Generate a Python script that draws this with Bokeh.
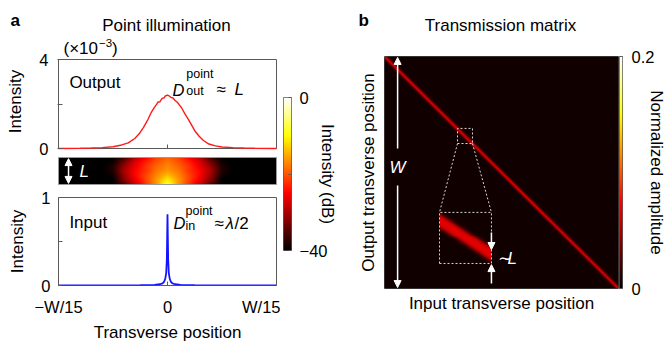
import numpy as np
from bokeh.plotting import figure
from bokeh.layouts import row, column
from bokeh.models import Range1d, LinearColorMapper, FixedTicker, Label, Arrow, NormalHead
from bokeh.embed import file_html
from bokeh.resources import INLINE

FONT = "Liberation Sans"
FRAME = "#5a5a5a"

# ---- data -------------------------------------------------------------
# Output intensity under point illumination (x in units of W/15, intensity x1e-3)
out_x = [-1.0, -0.8, -0.7, -0.6, -0.5, -0.42, -0.36, -0.3, -0.26, -0.22, -0.18,
         -0.15, -0.12, -0.1, -0.09, -0.07, -0.05, -0.03, -0.02, 0.0, 0.01, 0.03,
         0.05, 0.07, 0.09, 0.11, 0.13, 0.16, 0.19, 0.22, 0.25, 0.29, 0.33, 0.38,
         0.44, 0.5, 0.6, 0.7, 0.8, 1.0]
out_y = [0.0, 0.01, 0.02, 0.04, 0.08, 0.16, 0.25, 0.45, 0.66, 0.95, 1.3,
         1.61, 1.85, 1.98, 2.08, 2.1, 2.25, 2.28, 2.36, 2.4, 2.38, 2.3,
         2.27, 2.16, 2.08, 1.95, 1.82, 1.56, 1.32, 1.06, 0.8, 0.55, 0.36, 0.2,
         0.12, 0.07, 0.04, 0.02, 0.01, 0.0]

# Input intensity (focused spot)
in_x = [-1.0, -0.5, -0.25, -0.12, -0.07, -0.045, -0.03, -0.02, -0.012, -0.006,
        -0.003, 0.0, 0.003, 0.006, 0.012, 0.02, 0.03, 0.045, 0.07, 0.12, 0.25, 0.5, 1.0]
in_y = [0.0, 0.002, 0.004, 0.008, 0.014, 0.025, 0.045, 0.08, 0.14, 0.3,
        0.55, 0.81, 0.55, 0.3, 0.14, 0.08, 0.045, 0.025, 0.014, 0.008, 0.004, 0.002, 0.0]

# Intensity inside the medium (dB); rows from the input face (bottom) to the top,
# columns at x = -1.0, -0.9, ... 1.0
strip_db = [
    [-40, -40, -40, -40, -40, -40, -35, -28, -22, -16, -8, -16, -22, -28, -35, -40, -40, -40, -40, -40, -40],
    [-40, -40, -40, -40, -40, -40, -32, -26, -21, -16, -11, -16, -21, -26, -32, -40, -40, -40, -40, -40, -40],
    [-40, -40, -40, -40, -40, -39, -31, -25, -21, -17, -14, -17, -21, -25, -31, -39, -40, -40, -40, -40, -40],
    [-40, -40, -40, -40, -40, -38, -30, -25, -22, -18, -16, -18, -22, -25, -30, -38, -40, -40, -40, -40, -40],
    [-40, -40, -40, -40, -40, -38, -31, -26, -22, -19, -17, -19, -22, -26, -31, -38, -40, -40, -40, -40, -40],
    [-40, -40, -40, -40, -40, -39, -33, -27, -23, -20, -18, -20, -23, -27, -33, -39, -40, -40, -40, -40, -40],
    [-40, -40, -40, -40, -40, -40, -36, -29, -25, -21, -19, -21, -25, -29, -36, -40, -40, -40, -40, -40, -40],
]

# Transmission matrix: amplitude against |input - output| (fraction of W)
diag_offset = [0.0, 0.003, 0.006, 0.009, 0.012, 0.016, 0.022, 0.035]
diag_amp = [0.066, 0.062, 0.05, 0.032, 0.018, 0.011, 0.007, 0.005]

# Magnified block: band centre (fraction of block height, left/right edge)
inset_band = [0.16, 0.84]
inset_offset = [0.0, 0.05, 0.09, 0.12, 0.15, 0.19, 0.26]
inset_amp = [0.068, 0.066, 0.058, 0.044, 0.024, 0.01, 0.005]


def hot(n=256):
    cols = []
    for i in range(n):
        t = i / (n - 1)
        r = min(1.0, t / 0.375)
        g = min(1.0, max(0.0, (t - 0.375) / 0.375))
        b = min(1.0, max(0.0, (t - 0.75) / 0.25))
        cols.append("#%02x%02x%02x" % (int(r * 255), int(g * 255), int(b * 255)))
    return cols


HOT = hot()


def make_fig(w, h, xr, yr, left, right, top, bottom, **kw):
    p = figure(width=w, height=h, x_range=xr, y_range=yr, output_backend="svg",
               toolbar_location=None, min_border=0, min_border_left=left,
               min_border_right=right, min_border_top=top, min_border_bottom=bottom, **kw)
    p.frame_align = False
    p.grid.visible = False
    p.outline_line_color = FRAME
    return p


def header(w, h):
    # blank strip in pixel coordinates (y downwards) for panel letters and titles
    p = make_fig(w, h, Range1d(0, w), Range1d(h, 0), 0, 0, 0, 0,
                 x_axis_location=None, y_axis_location=None)
    p.outline_line_color = None
    return p


def style_axis(ax, ticks, overrides=None, tick_in=4, standoff=8, size="16.5px"):
    ax.ticker = FixedTicker(ticks=ticks, minor_ticks=[])
    if overrides:
        ax.major_label_overrides = overrides
    ax.major_tick_in = tick_in
    ax.major_tick_out = 0
    ax.minor_tick_line_color = None
    ax.axis_line_color = None
    ax.major_tick_line_color = FRAME
    ax.major_label_text_font = FONT
    ax.major_label_text_font_size = size
    ax.major_label_text_color = "black"
    ax.major_label_standoff = standoff
    ax.axis_label_text_font = FONT
    ax.axis_label_text_font_style = "normal"
    ax.axis_label_text_font_size = "17px"
    ax.axis_label_text_color = "black"


def text(p, x, y, s, size="17px", style="normal", color="black", align="left",
         baseline="alphabetic", **kw):
    p.add_layout(Label(x=x, y=y, text=s, text_font=FONT, text_font_size=size,
                       text_font_style=style, text_color=color, text_align=align,
                       text_baseline=baseline, **kw))


def arrow(p, x0, y0, x1, y1, **kw):
    p.add_layout(Arrow(x_start=x0, y_start=y0, x_end=x1, y_end=y1,
                       end=NormalHead(size=7, fill_color="white", line_color="white"),
                       line_color="white", line_width=1.5, **kw))


# ---- panel a: header ---------------------------------------------------
hdr_a = header(280, 34)
text(hdr_a, 10, 19.5, "a", style="bold")
text(hdr_a, 166, 25, "Point illumination", align="center")

# ---- panel a: output intensity + intensity inside the medium ----------
# one frame holds the output trace (y range) and the strip (extra "strip" range)
px_x = 109.0    # pixels per unit of W/15
px_y = 22.25    # pixels per 1e-3 of intensity
top = make_fig(280, 153, Range1d(-1 - 1 / px_x, 1 + 1 / px_x),
               Range1d(-37 / px_y, 4 + 25 / px_y), 57, 3, 0, 2, x_axis_location=None)
top.outline_line_color = None
top.extra_y_ranges = {"strip": Range1d(-1 / 27, 1 + 123 / 27)}
style_axis(top.yaxis[0], [0, 2, 4], {2: ""}, tick_in=5, standoff=9)
# the frame also holds the strip below, so the label is padded to sit beside the 0-4 box
top.yaxis.axis_label = "\u2003Intensity"
top.yaxis.axis_label_standoff = 11
top.quad(left=[-1], right=[1], bottom=[0], top=[4], fill_color=None, line_color=FRAME, line_width=1)
top.segment(x0=[0], y0=[0], x1=[0], y1=[4 / px_y], line_color=FRAME, line_width=1)
top.line(out_x, out_y, line_color="#ff1a1a", line_width=1.4)

text(top, -0.954, 4.48, "(×10")
text(top, -0.628, 4.76, "−3", size="11.5px")
text(top, -0.509, 4.48, ")")

# strip: display table resampled from the dB grid to the strip's pixel size
db_mapper = LinearColorMapper(palette=HOT, low=-40, high=0)
grid = np.array(strip_db, dtype=float)
gx = np.linspace(-1, 1, grid.shape[1])
gz = np.linspace(0, 1, grid.shape[0])
fx = np.linspace(-1, 1, 218)
fz = np.linspace(0, 1, 27)
tmp = np.array([np.interp(fx, gx, r) for r in grid])
strip_img = np.array([np.interp(fz, gz, tmp[:, j]) for j in range(len(fx))]).T
top.image(image=[strip_img], x=-1, y=0, dw=2, dh=1, color_mapper=db_mapper, y_range_name="strip")
top.quad(left=[-1], right=[1], bottom=[0], top=[1], fill_color=None, line_color="#9a9a9a",
         line_width=1, y_range_name="strip")
arrow(top, -0.908, 0.5, -0.908, 0.96, y_range_name="strip")
arrow(top, -0.908, 0.5, -0.908, 0.04, y_range_name="strip")
text(top, -0.807, 0.5, "L", style="italic", color="white", baseline="middle", y_range_name="strip")

text(top, -0.9, 2.97, "Output")
text(top, 0.046, 2.65, "D", size="16.5px", style="italic")
text(top, 0.172, 3.35, "point", size="12.5px")
text(top, 0.172, 2.58, "out", size="12.5px")
text(top, 0.45, 2.65, "≈")
text(top, 0.615, 2.65, "L", style="italic")

# ---- panel a: input intensity -----------------------------------------
bot = make_fig(280, 157, Range1d(-1, 1), Range1d(0, 1), 58, 4, 10, 57)
style_axis(bot.yaxis[0], [0, 0.5, 1], {0.5: ""}, standoff=8)
bot.yaxis.axis_label = "Intensity"
bot.yaxis.axis_label_standoff = 11
style_axis(bot.xaxis[0], [-1, 0, 1], {-1: "−W/15", 0: "0", 1: "W/15"}, standoff=12)
bot.xaxis.axis_label = "Transverse position"
bot.xaxis.axis_label_standoff = 4
bot.line(in_x, in_y, line_color="#1414ff", line_width=1.8)
text(bot, -0.9, 0.72, "Input")
text(bot, 0.055, 0.71, "D", size="16.5px", style="italic")
text(bot, 0.165, 0.845, "point", size="12.5px")
text(bot, 0.165, 0.68, "in", size="12.5px")
text(bot, 0.431, 0.71, "≈")
text(bot, 0.532, 0.71, "λ", style="italic")
text(bot, 0.615, 0.71, "/2")

# ---- panel a: colour bar ----------------------------------------------
cba = make_fig(60, 344, Range1d(0, 1), Range1d(-40, 0), 3, 47, 97, 94,
               x_axis_location=None, y_axis_location="right")
cba.image(image=[np.linspace(-40, 0, 256).reshape(256, 1)], x=0, y=-40, dw=1, dh=40,
          color_mapper=db_mapper)
style_axis(cba.yaxis[0], [-40, -20, 0], {-40: "−40", -20: "", 0: "0"}, tick_in=3, standoff=8)
cba.yaxis.axis_label = "Intensity (dB)"
cba.yaxis.axis_label_standoff = -12

# ---- panel b: header ---------------------------------------------------
hdr_b = header(279, 52)
text(hdr_b, 18, 19.5, "b", style="bold")
text(hdr_b, 160, 25, "Transmission matrix", align="center")

# ---- panel b: transmission matrix -------------------------------------
mb = make_fig(279, 292, Range1d(0, 1), Range1d(0, 1), 44, 1, 4, 56)
mb.outline_line_color = "#444444"
amp_mapper = LinearColorMapper(palette=HOT, low=0, high=0.2)
n_in, n_out = 234, 232
p_in = (np.arange(n_in) + 0.5) / n_in
p_out = (np.arange(n_out) + 0.5) / n_out
tm = np.interp(np.abs(p_out[:, None] - p_in[None, :]), diag_offset, diag_amp)
mb.image(image=[tm[::-1]], x=0, y=0, dw=1, dh=1, color_mapper=amp_mapper)

# magnified block
bx0, bx1, by0, by1 = 0.235, 0.457, 0.108, 0.328
sx0, sx1, sy0, sy1 = 0.312, 0.376, 0.625, 0.690
m = 52
u = (np.arange(m) + 0.5) / m
centre = inset_band[0] + (inset_band[1] - inset_band[0]) * u
blk = np.interp(np.abs(u[:, None] - centre[None, :]), inset_offset, inset_amp)
mb.image(image=[blk[::-1]], x=bx0, y=by0, dw=bx1 - bx0, dh=by1 - by0, color_mapper=amp_mapper)
dash = dict(line_color="#d8d8d8", line_width=1, line_dash="2 2")
for xs, ys in [([bx0, bx1, bx1, bx0, bx0], [by0, by0, by1, by1, by0]),
               ([sx0, sx1, sx1, sx0, sx0], [sy0, sy0, sy1, sy1, sy0]),
               ([sx0, bx0], [sy0, by1]), ([sx1, bx1], [sy0, by1])]:
    mb.line(xs, ys, **dash)

arrow(mb, 0.056, 0.603, 0.056, 0.996)
arrow(mb, 0.056, 0.444, 0.056, 0.004)
text(mb, 0.056, 0.522, "W", style="italic", color="white", align="center", baseline="middle")
arrow(mb, 0.457, 0.241, 0.457, 0.168)
arrow(mb, 0.457, 0.022, 0.457, 0.103)
text(mb, 0.483, 0.129, "∼", color="white", baseline="middle")
text(mb, 0.526, 0.129, "L", style="italic", color="white", baseline="middle")

style_axis(mb.xaxis[0], [], tick_in=0, standoff=0, size="0px")
style_axis(mb.yaxis[0], [], tick_in=0, standoff=0, size="0px")
mb.xaxis.axis_label = "Input transverse position"
mb.xaxis.axis_label_standoff = 5
mb.yaxis.axis_label = "Output transverse position"
mb.yaxis.axis_label_standoff = 7

# ---- panel b: colour bar ----------------------------------------------
cbb = make_fig(50, 344, Range1d(0, 1), Range1d(0, 0.2), 0, 42, 56, 56,
               x_axis_location=None, y_axis_location="right")
cbb.image(image=[np.linspace(0, 0.2, 256).reshape(256, 1)], x=0, y=0, dw=1, dh=0.2,
          color_mapper=amp_mapper)
style_axis(cbb.yaxis[0], [0, 0.2], {0: "0", 0.2: "0.2"}, tick_in=3, standoff=9)
cbb.yaxis.axis_label = "Normalized amplitude"
cbb.yaxis.axis_label_standoff = -10

layout = row(column(hdr_a, top, bot), cba, column(hdr_b, mb), cbb)
open("out.html", "w").write(file_html(layout, INLINE))
